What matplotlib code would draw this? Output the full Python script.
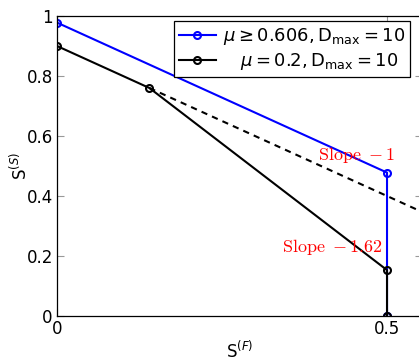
import numpy as np
import matplotlib
matplotlib.use('Agg')
import matplotlib.pyplot as plt

# data
blue_x = [0.0, 0.5, 0.5]
blue_y = [0.978, 0.478, 0.0]
black_x = [0.0, 0.14, 0.5, 0.5]
black_y = [0.90, 0.76, 0.153, 0.0]
dash_x = [0.14, 0.56]
dash_y = [0.76, 0.34]

blue_label = r'$\mu \geq 0.606, \mathrm{D}_{\mathrm{max}} = 10$'
black_label = r'   $\mu = 0.2, \mathrm{D}_{\mathrm{max}} = 10$'

plt.rcParams['font.size'] = 12
plt.rcParams['mathtext.fontset'] = 'dejavusans'

fig = plt.figure(figsize=(4.19, 3.61), dpi=100)
W, H = 419, 361
ax = fig.add_axes([57 / W, 1 - 316 / H, (0.55 * 660 + 2) / W, 300 / H])

ax.plot(blue_x, blue_y, color='blue', lw=1.5, marker='o', ms=5,
        mfc='none', mew=1.5, label=blue_label)
ax.plot(black_x, black_y, color='black', lw=1.5, marker='o', ms=5,
        mfc='none', mew=1.5, label=black_label)
ax.plot(dash_x, dash_y, color='black', lw=1.5, ls=(0, (3, 2.5)))

ax.text(0.513, 0.537, r'$\mathrm{Slope}\ -1$', color='red', ha='right',
        va='center', fontsize=13, math_fontfamily='cm')
ax.text(0.494, 0.23, r'$\mathrm{Slope}\ -1.62$', color='red', ha='right',
        va='center', fontsize=13, math_fontfamily='cm')

ax.set_xlim(0, 0.553)
ax.set_ylim(0, 1)
ax.set_xticks([0, 0.5])
ax.set_xticklabels(['0', '0.5'])
ax.set_yticks([0, 0.2, 0.4, 0.6, 0.8, 1])
ax.set_yticklabels(['0', '0.2', '0.4', '0.6', '0.8', '1'])
ax.tick_params(direction='in', length=5, width=0.8, color='0.6',
               top=True, right=True, pad=3)
for s in ax.spines.values():
    s.set_linewidth(0.9)

ax.set_xlabel(r'S$^{(F)}$', labelpad=2)
ax.set_ylabel(r'S$^{(S)}$', labelpad=-3)

leg = ax.legend(loc='upper left', bbox_to_anchor=(174 / W, 1 - 21 / H),
                bbox_transform=fig.transFigure, fancybox=False,
                edgecolor='black', framealpha=1, borderpad=0.3,
                handlelength=2.0, handletextpad=0.4, labelspacing=0.2,
                borderaxespad=0, fontsize=13)
leg.get_frame().set_linewidth(0.9)

fig.savefig('out.png', dpi=100)
